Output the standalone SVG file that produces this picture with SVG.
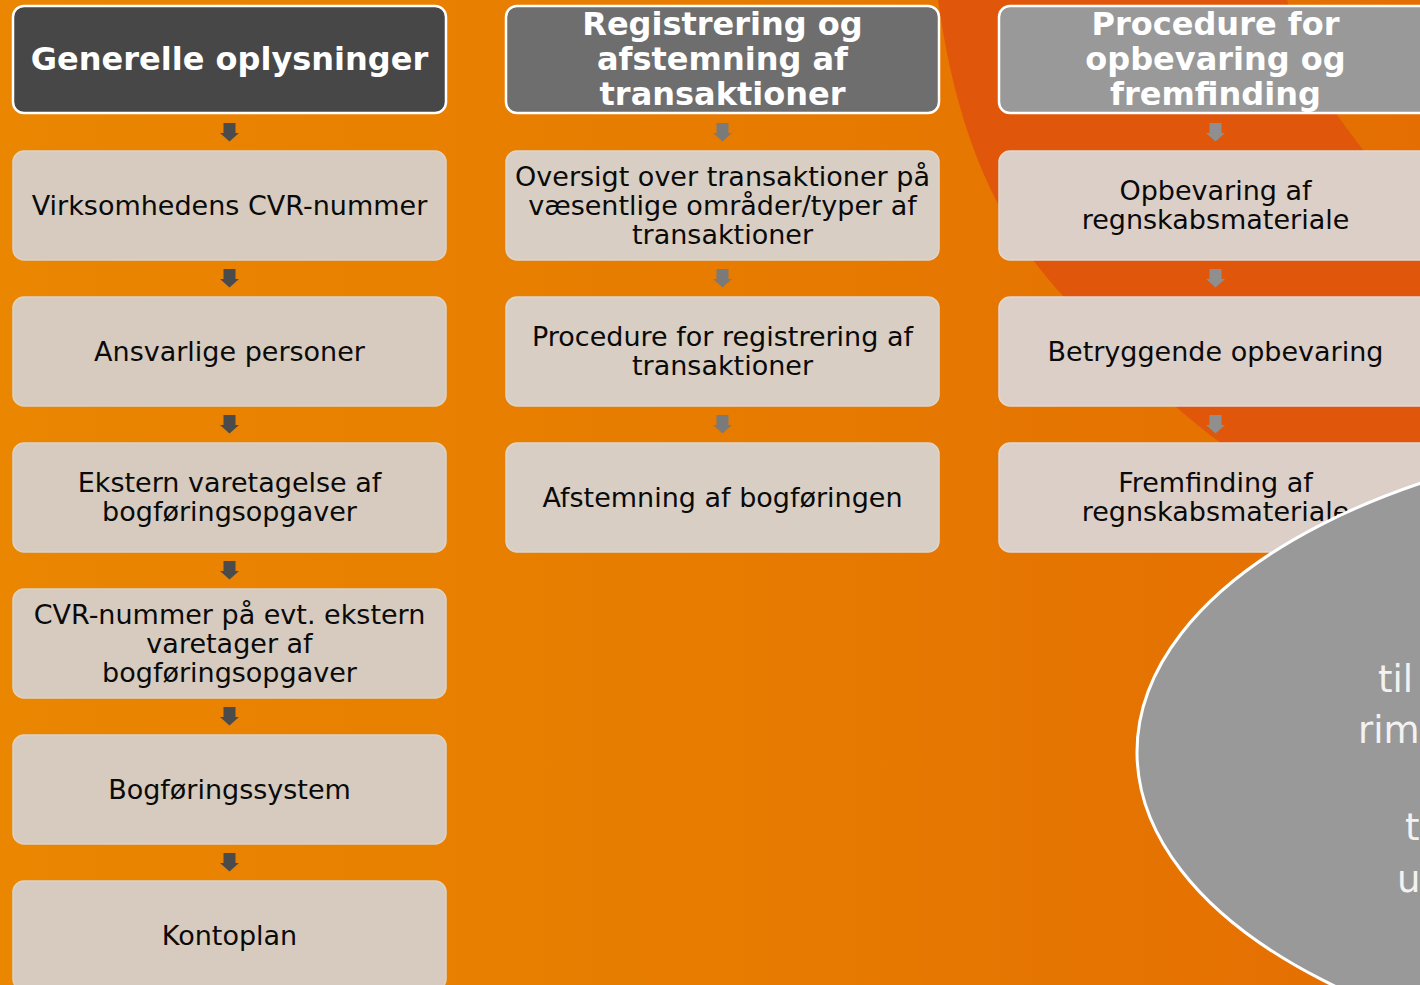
<svg xmlns="http://www.w3.org/2000/svg" xmlns:xlink="http://www.w3.org/1999/xlink" width="1420" height="985" viewBox="0 0 1420 985">
<defs>
<linearGradient id="bg" x1="0" y1="0" x2="1" y2="0">
<stop offset="0" stop-color="#EA8600"/>
<stop offset="0.5" stop-color="#E77C00"/>
<stop offset="1" stop-color="#E46E02"/>
</linearGradient>
<path id="arr" d="M-6,0 H6 V10 H9.5 L0,18.5 L-9.5,10 H-6 Z"/>
<style>
.hdr{stroke:#FFFFFF;stroke-width:2.5}
.box{stroke-width:1.5}
.b1{fill:#D6CBBE;stroke:#DCD3C8}
.b2{fill:#D8CEC3;stroke:#DED6CC}
.b3{fill:#DCCFC7;stroke:#E2D8D1}
.ht{font-family:"DejaVu Sans","Verdana",sans-serif;font-weight:bold;font-size:32px;fill:#FFFFFF;text-anchor:middle}
.bt{font-family:"DejaVu Sans","Verdana",sans-serif;font-size:27px;fill:#0A0A0A;text-anchor:middle}
.et{font-family:"DejaVu Sans","Verdana",sans-serif;font-size:37px;fill:#F2F2F2}
</style>
</defs>
<rect x="0" y="0" width="1420" height="985" fill="url(#bg)"/>
<path d="M938,0 C955,120 990,220 1067,300 S1190,425 1260,470 L1420,575 L1420,215 C1385,180 1355,140 1335,112 C1315,80 1298,40 1287,0 Z" fill="#E0560A"/>

<g id="connectors">
<g fill="#4B4B4B">
<use xlink:href="#arr" x="229.5" y="123"/>
<use xlink:href="#arr" x="229.5" y="269"/>
<use xlink:href="#arr" x="229.5" y="415"/>
<use xlink:href="#arr" x="229.5" y="561"/>
<use xlink:href="#arr" x="229.5" y="707"/>
<use xlink:href="#arr" x="229.5" y="853"/>
</g>
<g fill="#7A7A7A">
<use xlink:href="#arr" x="722.5" y="123"/>
<use xlink:href="#arr" x="722.5" y="269"/>
<use xlink:href="#arr" x="722.5" y="415"/>
</g>
<g fill="#8F8F8F">
<use xlink:href="#arr" x="1215.5" y="123"/>
<use xlink:href="#arr" x="1215.5" y="269"/>
<use xlink:href="#arr" x="1215.5" y="415"/>
</g>
</g>

<g id="h1"><rect class="hdr" x="13" y="6" width="433" height="107" rx="11" fill="#474747"/>
<text class="ht" x="229.5" y="70">Generelle oplysninger</text></g>
<g id="h2"><rect class="hdr" x="506" y="6" width="433" height="107" rx="11" fill="#6E6E6E"/>
<text class="ht" x="722.5" y="35">Registrering og</text>
<text class="ht" x="722.5" y="70">afstemning af</text>
<text class="ht" x="722.5" y="105">transaktioner</text></g>
<g id="h3"><rect class="hdr" x="999" y="6" width="433" height="107" rx="11" fill="#999999"/>
<text class="ht" x="1215.5" y="35">Procedure for</text>
<text class="ht" x="1215.5" y="70">opbevaring og</text>
<text class="ht" x="1215.5" y="105">fremfinding</text></g>

<g id="c1n1"><rect class="box b1" x="13" y="151" width="433" height="109" rx="11"/>
<text class="bt" x="229.5" y="215">Virksomhedens CVR-nummer</text></g>
<g id="c1n2"><rect class="box b1" x="13" y="297" width="433" height="109" rx="11"/>
<text class="bt" x="229.5" y="361">Ansvarlige personer</text></g>
<g id="c1n3"><rect class="box b1" x="13" y="443" width="433" height="109" rx="11"/>
<text class="bt" x="229.5" y="492">Ekstern varetagelse af</text>
<text class="bt" x="229.5" y="521">bogføringsopgaver</text></g>
<g id="c1n4"><rect class="box b1" x="13" y="589" width="433" height="109" rx="11"/>
<text class="bt" x="229.5" y="624">CVR-nummer på evt. ekstern</text>
<text class="bt" x="229.5" y="653">varetager af</text>
<text class="bt" x="229.5" y="682">bogføringsopgaver</text></g>
<g id="c1n5"><rect class="box b1" x="13" y="735" width="433" height="109" rx="11"/>
<text class="bt" x="229.5" y="799">Bogføringssystem</text></g>
<g id="c1n6"><rect class="box b1" x="13" y="881" width="433" height="109" rx="11"/>
<text class="bt" x="229.5" y="945">Kontoplan</text></g>

<g id="c2n1"><rect class="box b2" x="506" y="151" width="433" height="109" rx="11"/>
<text class="bt" x="722.5" y="186">Oversigt over transaktioner på</text>
<text class="bt" x="722.5" y="215">væsentlige områder/typer af</text>
<text class="bt" x="722.5" y="244">transaktioner</text></g>
<g id="c2n2"><rect class="box b2" x="506" y="297" width="433" height="109" rx="11"/>
<text class="bt" x="722.5" y="346">Procedure for registrering af</text>
<text class="bt" x="722.5" y="375">transaktioner</text></g>
<g id="c2n3"><rect class="box b2" x="506" y="443" width="433" height="109" rx="11"/>
<text class="bt" x="722.5" y="507">Afstemning af bogføringen</text></g>

<g id="c3n1"><rect class="box b3" x="999" y="151" width="433" height="109" rx="11"/>
<text class="bt" x="1215.5" y="200">Opbevaring af</text>
<text class="bt" x="1215.5" y="229">regnskabsmateriale</text></g>
<g id="c3n2"><rect class="box b3" x="999" y="297" width="433" height="109" rx="11"/>
<text class="bt" x="1215.5" y="361">Betryggende opbevaring</text></g>
<g id="c3n3"><rect class="box b3" x="999" y="443" width="433" height="109" rx="11"/>
<text class="bt" x="1215.5" y="492">Fremfinding af</text>
<text class="bt" x="1215.5" y="521">regnskabsmateriale</text></g>

<g id="ellipse"><ellipse cx="1768" cy="752" rx="631" ry="322" fill="#999999" stroke="#FFFFFF" stroke-width="3"/>
<text class="et" x="1378" y="692">til</text>
<text class="et" x="1358" y="743">rim</text>
<text class="et" x="1405" y="840">t</text>
<text class="et" x="1397" y="892">u</text></g>
</svg>
